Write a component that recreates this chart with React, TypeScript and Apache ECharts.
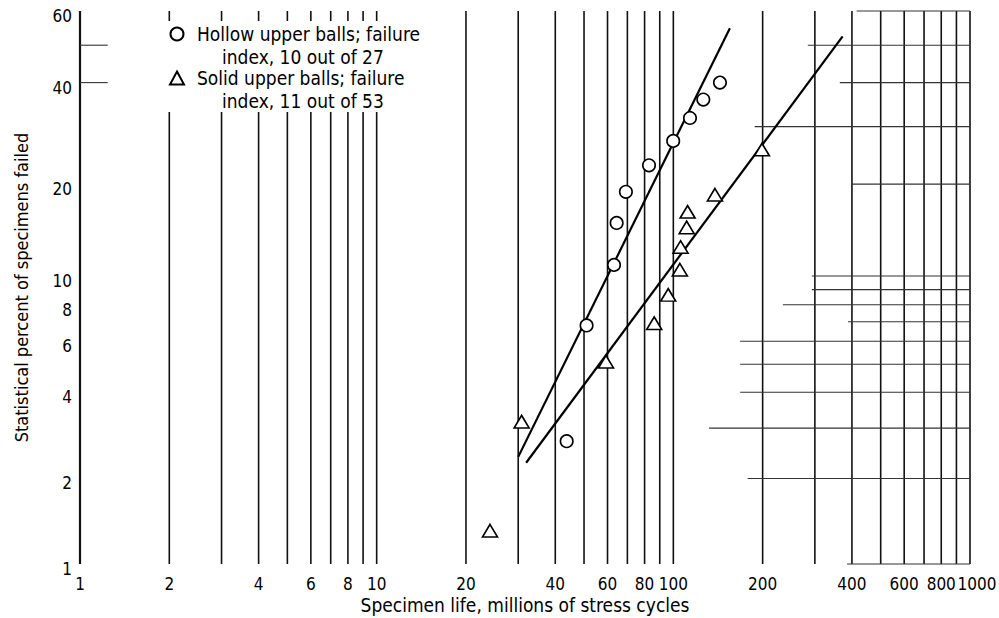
import React, { useEffect, useRef } from "react";
import * as echarts from "echarts";

// Tick labels
const xTickLabels = [1, 2, 4, 6, 8, 10, 20, 40, 60, 80, 100, 200, 400, 600, 800, 1000];
const yTickLabels = [1, 2, 4, 6, 8, 10, 20, 40, 60];

// Vertical grid lines (specimen life)
const xGridValues = [1, 2, 3, 4, 5, 6, 7, 8, 9, 10, 20, 30, 40, 50, 60, 70, 80, 90, 100, 200, 300, 400, 500, 600, 700, 800, 900, 1000];
// Horizontal grid segments: [percent, life from, life to]
const hGridSegments = [
  [60, 415, 1000], [50, 284, 1000], [40, 364, 1000], [30, 188, 1000], [20, 400, 1000],
  [10, 293, 1000], [9, 293, 1000], [8, 234, 1000], [7, 388, 1000], [6, 168, 1000],
  [5, 168, 1000], [4, 168, 1000], [3, 132, 1000], [2, 178, 1000], [1, 385, 1000],
  [50, 1, 1.24], [40, 1, 1.24],
];

// Data
const hollowLife = [43.7, 51.0, 63.1, 64.4, 69.2, 82.8, 99.9, 113.8, 126.2, 143.6];
const hollowPct = [2.7, 6.8, 10.9, 15.0, 18.9, 22.9, 27.2, 31.8, 35.9, 40.0];
const solidLife = [24.1, 30.8, 59.3, 86.2, 96.1, 105.2, 105.8, 110.9, 111.7, 138.1, 198.9];
const solidPct = [1.31, 3.16, 5.1, 6.92, 8.64, 10.5, 12.5, 14.5, 16.3, 18.5, 25.6];
const hollowFitLife = [30.0, 155.1];
const hollowFitPct = [2.38, 54.9];
const solidFitLife = [31.9, 372.1];
const solidFitPct = [2.27, 52.5];

const legendLines = [
  ["Hollow upper balls; failure", "index, 10 out of 27"],
  ["Solid upper balls; failure", "index, 11 out of 53"],
];
const xTitle = "Specimen life, millions of stress cycles";
const yTitle = "Statistical percent of specimens failed";

const FONT = "'Liberation Sans Narrow', 'DejaVu Sans Condensed', sans-serif";

const lx = (v: number) => Math.log10(v);
const wb = (p: number) => Math.log(-Math.log(1 - p / 100));
const invWb = (w: number) => 100 * (1 - Math.exp(-Math.exp(w)));

const Y_MIN = wb(1);
const Y_MAX = wb(60);

export default function App() {
  const ref = useRef<HTMLDivElement>(null);
  useEffect(() => {
    if (!ref.current) return;
    const chart = echarts.init(ref.current, undefined, { renderer: "svg" });
    const pairs = (xs: number[], ps: number[]) => xs.map((x, i) => [lx(x), wb(ps[i])]);
    const tickFont = { fontSize: 17, color: "#000", fontFamily: FONT };
    const option: any = {
      animation: false,
      backgroundColor: "#fff",
      grid: { left: 80, right: 29, top: 11, bottom: 54, outerBoundsMode: "none", containLabel: false },
      xAxis: {
        type: "value",
        min: 0,
        max: 3,
        axisLine: { show: false },
        axisTick: { show: false },
        splitLine: { show: false },
        axisLabel: {
          customValues: xTickLabels.map(lx),
          showMaxLabel: true,
          showMinLabel: true,
          formatter: (v: number) => {
            const n = Math.round(Math.pow(10, v));
            return n === 1000 ? `{r|${n}}` : String(n);
          },
          margin: 11,
          ...tickFont,
          rich: { r: { ...tickFont, padding: [0, 0, 0, 14] } },
        },
        name: xTitle,
        nameLocation: "middle",
        nameGap: 31,
        nameMoveOverlap: false,
        nameTextStyle: { fontSize: 19, color: "#000", fontFamily: FONT },
      },
      yAxis: {
        type: "value",
        min: Y_MIN,
        max: Y_MAX,
        axisLine: { show: false },
        axisTick: { show: false },
        splitLine: { show: false },
        axisLabel: {
          customValues: yTickLabels.map(wb),
          showMaxLabel: true,
          showMinLabel: true,
          formatter: (v: number) => `{v|${Math.round(invWb(v))}}`,
          margin: 8,
          ...tickFont,
          rich: { v: { ...tickFont, padding: [10, 0, 0, 0] } },
        },
        name: yTitle,
        nameLocation: "middle",
        nameGap: 50,
        nameMoveOverlap: false,
        nameTextStyle: { fontSize: 18, color: "#000", fontFamily: FONT },
      },
      legend: {
        data: legendLines.map((l) => l[0]),
        orient: "vertical",
        left: 169,
        top: 23,
        padding: 0,
        itemGap: 22,
        itemWidth: 14,
        itemHeight: 13,
        selectedMode: false,
        textStyle: { fontSize: 19, lineHeight: 22, color: "#000", fontFamily: FONT, padding: [0, 0, 0, 8] },
      },
      graphic: {
        elements: [
          { type: "rect", z: 3, silent: true, shape: { x: 158, y: 21, width: 280, height: 91 }, style: { fill: "#fff" } },
          {
            type: "text", z: 5, silent: true, left: 222, top: 47,
            style: { text: legendLines[0][1], fontSize: 19, fill: "#000", fontFamily: FONT },
          },
          {
            type: "text", z: 5, silent: true, left: 222, top: 91,
            style: { text: legendLines[1][1], fontSize: 19, fill: "#000", fontFamily: FONT },
          },
        ],
      },
      series: [
        {
          type: "custom",
          name: "vgrid",
          silent: true,
          z: 1,
          data: xGridValues.map((v) => [lx(v), Y_MIN, Y_MAX, v]),
          encode: { x: 0, y: [1, 2] },
          renderItem: (params: any, api: any) => {
            const x = api.value(0);
            const p1 = api.coord([x, api.value(2)]);
            const p2 = api.coord([x, api.value(1)]);
            const v = api.value(3);
            return {
              type: "line",
              shape: { x1: p1[0], y1: p1[1], x2: p2[0], y2: p2[1] },
              style: { stroke: "#111", lineWidth: v === 1 ? 2.2 : 1.6 },
            };
          },
        },
        {
          type: "custom",
          name: "hgrid",
          silent: true,
          z: 1,
          data: hGridSegments.map((s) => [lx(s[1]), lx(s[2]), wb(s[0])]),
          encode: { x: [0, 1], y: 2 },
          renderItem: (params: any, api: any) => {
            const y = api.value(2);
            const p1 = api.coord([api.value(0), y]);
            const p2 = api.coord([api.value(1), y]);
            return {
              type: "line",
              shape: { x1: p1[0], y1: p1[1], x2: p2[0], y2: p2[1] },
              style: { stroke: "#333", lineWidth: 1.1 },
            };
          },
        },
        {
          type: "line",
          name: "Hollow fit",
          z: 2,
          data: pairs(hollowFitLife, hollowFitPct),
          showSymbol: false,
          symbol: "none",
          lineStyle: { color: "#000", width: 2.2 },
        },
        {
          type: "line",
          name: "Solid fit",
          z: 2,
          data: pairs(solidFitLife, solidFitPct),
          showSymbol: false,
          symbol: "none",
          lineStyle: { color: "#000", width: 2.2 },
        },
        {
          type: "scatter",
          name: legendLines[0][0],
          z: 3,
          symbol: "circle",
          symbolSize: 12.5,
          itemStyle: { color: "#fff", borderColor: "#000", borderWidth: 1.6, opacity: 1 },
          data: pairs(hollowLife, hollowPct),
        },
        {
          type: "scatter",
          name: legendLines[1][0],
          z: 3,
          symbol: "triangle",
          symbolSize: [15, 12.5],
          itemStyle: { color: "#fff", borderColor: "#000", borderWidth: 1.6, opacity: 1 },
          data: pairs(solidLife, solidPct),
        },
      ],
    };
    chart.setOption(option);
    return () => chart.dispose();
  }, []);
  return <div ref={ref} style={{ position: "absolute", left: 0, top: 0, width: 999, height: 618 }} />;
}
